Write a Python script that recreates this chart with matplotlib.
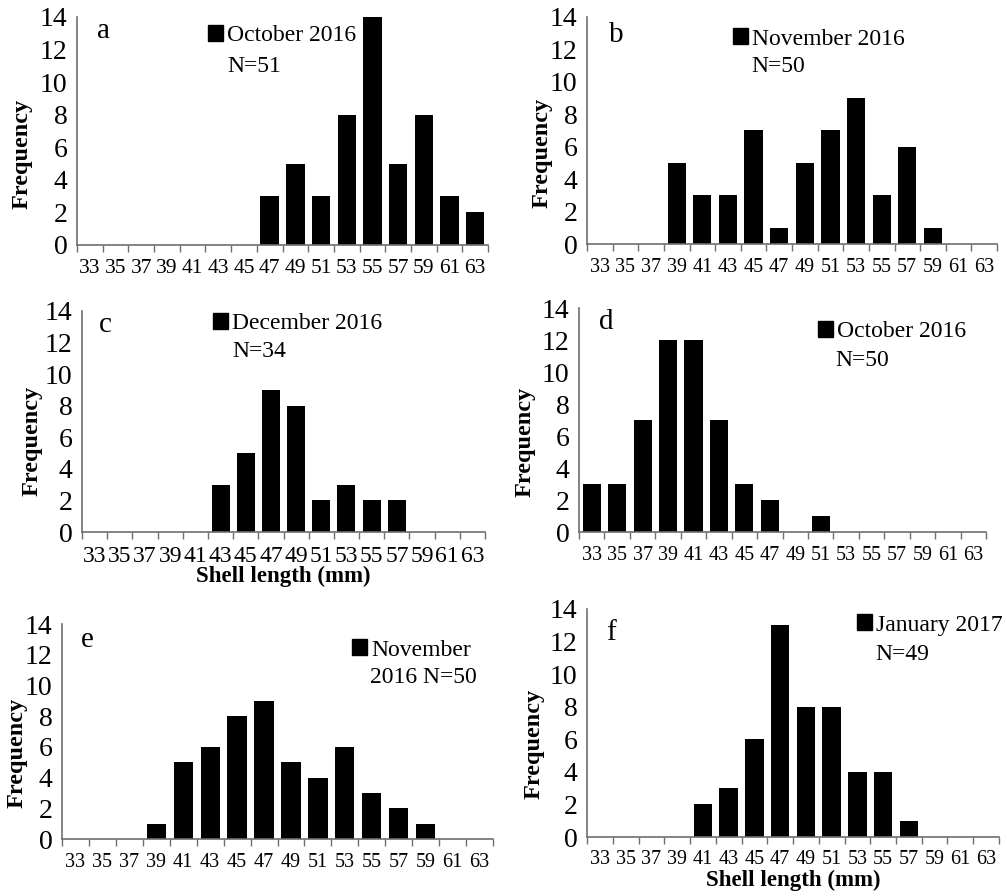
import numpy as np
import matplotlib
matplotlib.use('Agg')
import matplotlib.pyplot as plt
from matplotlib.patches import Patch

plt.rcParams['font.family'] = ['Liberation Serif', 'DejaVu Serif']

# shell length classes (mm)
lengths = ['33', '35', '37', '39', '41', '43', '45', '47',
           '49', '51', '53', '55', '57', '59', '61', '63']

freq_a = [0, 0, 0, 0, 0, 0, 0, 3, 5, 3, 8, 14, 5, 8, 3, 2]
freq_b = [0, 0, 0, 5, 3, 3, 7, 1, 5, 7, 9, 3, 6, 1, 0, 0]
freq_c = [0, 0, 0, 0, 0, 3, 5, 9, 8, 2, 3, 2, 2, 0, 0, 0]
freq_d = [3, 3, 7, 12, 12, 7, 3, 2, 0, 1, 0, 0, 0, 0, 0, 0]
freq_e = [0, 0, 0, 1, 5, 6, 8, 9, 5, 4, 6, 3, 2, 1, 0, 0]
freq_f = [0, 0, 0, 0, 2, 3, 6, 13, 8, 8, 4, 4, 1, 0, 0, 0]

panel_letters = ['a', 'b', 'c', 'd', 'e', 'f']
legend_first = ['October 2016', 'November 2016', 'December 2016',
                'October 2016', 'November', 'January 2017']
legend_second = ['N=51', 'N=50', 'N=34', 'N=50', '2016 N=50', 'N=49']
series = [freq_a, freq_b, freq_c, freq_d, freq_e, freq_f]

W, H = 1007, 896
# axes boxes in pixels: left, top, right, bottom
boxes = [(77, 17, 488, 245), (587, 17, 997, 244),
         (82, 311, 485, 532), (579, 308, 986, 532),
         (62, 624, 493, 839), (587, 609, 999, 837)]
xtick_size = [15.5, 14.5, 17, 14.5, 14.5, 14.5]
xtick_pad = [10, 10, 10, 10, 10, 9]
letter_pos = [(0.048, 0.908), (0.054, 0.89), (0.043, 0.905),
              (0.05, 0.906), (0.044, 0.893), (0.047, 0.864)]
leg_pos = [(0.319, 0.919), (0.356, 0.903), (0.325, 0.943),
           (0.587, 0.895), (0.673, 0.879), (0.655, 0.930)]
n_pos = [(0.365, 0.759), (0.402, 0.758), (0.372, 0.792),
         (0.629, 0.741), (0.715, 0.726), (0.699, 0.776)]
ylab_pos = [(-0.107, 0.40), (-0.085, 0.40), (-0.099, 0.41),
            (-0.108, 0.40), (-0.081, 0.40), (-0.102, 0.41)]
show_xlabel = [False, False, True, False, False, True]
xlab_y = [None, None, -0.155, None, None, -0.143]

axis_col = '#6e6e6e'

fig = plt.figure(figsize=(W / 100, H / 100), dpi=100)

for k in range(6):
    l, t, r, b = boxes[k]
    ax = fig.add_axes([l / W, 1 - b / H, (r - l) / W, (b - t) / H])
    x = np.arange(len(lengths))
    ax.bar(x, series[k], width=0.714, color='black')
    ax.set_xlim(-0.5, len(lengths) - 0.5)
    ax.set_ylim(0, 14)
    ax.set_yticks(np.arange(0, 15, 2))
    ax.set_xticks(x)
    ax.set_xticklabels(lengths)
    ax.set_xticks(np.arange(-0.5, len(lengths), 1), minor=True)
    ax.tick_params(axis='x', which='major', length=0, pad=xtick_pad[k],
                   labelsize=xtick_size[k])
    ax.tick_params(axis='x', which='minor', length=5, width=1,
                   color=axis_col, direction='out')
    ax.tick_params(axis='y', length=0, pad=7, labelsize=20)
    for s in ['top', 'right']:
        ax.spines[s].set_visible(False)
    for s in ['left', 'bottom']:
        ax.spines[s].set_color(axis_col)
        ax.spines[s].set_linewidth(1.2)

    ax.set_ylabel('Frequency', fontsize=17.5, fontweight='bold')
    ax.yaxis.set_label_coords(*ylab_pos[k])
    if show_xlabel[k]:
        ax.set_xlabel('Shell length (mm)', fontsize=16.5, fontweight='bold')
        ax.xaxis.set_label_coords(0.5, xlab_y[k])

    ax.text(*letter_pos[k], panel_letters[k], transform=ax.transAxes,
            fontsize=21, ha='left', va='baseline')

    handle = Patch(facecolor='black', edgecolor='black')
    ax.legend([handle], [legend_first[k]], loc='center left',
              bbox_to_anchor=leg_pos[k], frameon=False, borderpad=0,
              borderaxespad=0, handlelength=0.65, handleheight=0.65,
              handletextpad=0.17, fontsize=17)
    ax.text(*n_pos[k], legend_second[k], transform=ax.transAxes,
            fontsize=17, ha='left', va='baseline')

fig.savefig('out.png', dpi=100)
